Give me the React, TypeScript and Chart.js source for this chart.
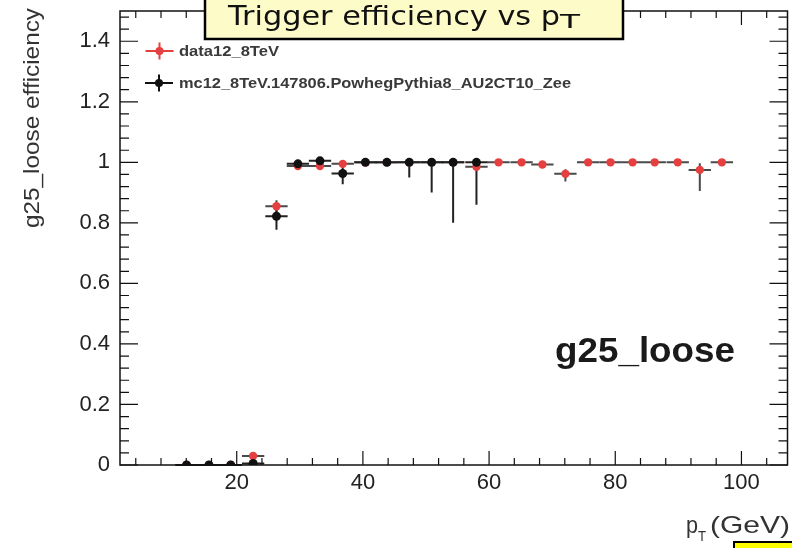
import React, { useEffect, useRef } from 'react';
import { Chart, registerables } from 'chart.js';

Chart.register(...registerables);

// ---- data ----
const binCenters = [12.05, 15.6, 19.05, 22.6, 26.3, 29.7, 33.2, 36.8, 40.4, 43.8, 47.35, 50.9, 54.3, 58.0, 61.5, 65.15, 68.45, 72.1, 75.7, 79.25, 82.75, 86.25, 89.9, 93.4, 96.9];
const binHalfWidth = 1.77;

const dataEff = [0, 0, 0, 0.03, 0.855, 0.988, 0.988, 0.995, 1.0, 1.0, 1.0, 1.0, 1.0, 0.985, 1.0, 1.0, 0.993, 0.962, 1.0, 1.0, 1.0, 1.0, 1.0, 0.975, 1.0];
const dataErrUp = [0, 0, 0, 0.01, 0.02, 0.005, 0.005, 0.005, 0.003, 0.003, 0.003, 0.003, 0.003, 0.01, 0.003, 0.003, 0.005, 0.015, 0.003, 0.003, 0.003, 0.003, 0.003, 0.022, 0.003];
const dataErrDown = [0, 0, 0, 0.01, 0.02, 0.005, 0.005, 0.005, 0.003, 0.003, 0.003, 0.003, 0.003, 0.01, 0.003, 0.003, 0.005, 0.025, 0.003, 0.003, 0.003, 0.003, 0.003, 0.07, 0.003];

const mcEff: (number | null)[] = [0, 0, 0, 0.005, 0.822, 0.995, 1.005, 0.963, 1.0, 1.0, 1.0, 1.0, 1.0, 1.0, null, null, null, null, null, null, null, null, null, null, null];
const mcErrUp = [0, 0, 0, 0.005, 0.03, 0.005, 0.005, 0.03, 0, 0, 0, 0, 0, 0, 0, 0, 0, 0, 0, 0, 0, 0, 0, 0, 0];
const mcErrDown = [0, 0, 0, 0.005, 0.045, 0.005, 0.005, 0.035, 0, 0, 0.05, 0.1, 0.2, 0.14, 0, 0, 0, 0, 0, 0, 0, 0, 0, 0, 0];

const xMin = 1.5;
const xMax = 107.3;
const yMin = 0;
const yMax = 1.5;
const xTickValues = [20, 40, 60, 80, 100];
const xTickLabels = ['20', '40', '60', '80', '100'];
const yTickValues = [0, 0.2, 0.4, 0.6, 0.8, 1.0, 1.2, 1.4];
const yTickLabels = ['0', '0.2', '0.4', '0.6', '0.8', '1', '1.2', '1.4'];

const dataLabel = 'data12_8TeV';
const mcLabel = 'mc12_8TeV.147806.PowhegPythia8_AU2CT10_Zee';
const yTitle = 'g25_loose efficiency';
const plotLabel = 'g25_loose';
const titleMain = 'Trigger efficiency vs p';
const titleSub = 'T';

const FONT = '"Liberation Sans", Arial, Helvetica, sans-serif';
const RED = '#e5403f';
const BLACK = '#111111';

function fitText(ctx: CanvasRenderingContext2D, text: string, x: number, y: number, font: string, targetW: number, align: CanvasTextAlign = 'left') {
  ctx.save();
  ctx.font = font;
  const w = ctx.measureText(text).width || 1;
  const s = targetW / w;
  ctx.translate(x, y);
  ctx.scale(s, 1);
  ctx.textAlign = align;
  ctx.textBaseline = 'alphabetic';
  ctx.fillText(text, 0, 0);
  ctx.restore();
}

const errorBarPlugin = {
  id: 'errorBars',
  beforeDatasetsDraw(chart: any) {
    const { ctx, scales } = chart;
    const x = scales.x;
    const y = scales.y;
    const draw = (vals: (number | null)[], up: number[], down: number[], color: string) => {
      ctx.save();
      ctx.strokeStyle = color;
      ctx.lineWidth = 2;
      vals.forEach((v, i) => {
        if (v == null) return;
        const cx = x.getPixelForValue(binCenters[i]);
        const x0 = x.getPixelForValue(binCenters[i] - binHalfWidth);
        const x1 = x.getPixelForValue(binCenters[i] + binHalfWidth);
        const py = y.getPixelForValue(v);
        ctx.beginPath();
        ctx.moveTo(x0, py);
        ctx.lineTo(x1, py);
        if (up[i] > 0 || down[i] > 0) {
          ctx.moveTo(cx, y.getPixelForValue(v + up[i]));
          ctx.lineTo(cx, y.getPixelForValue(Math.max(0, v - down[i])));
        }
        ctx.stroke();
      });
      ctx.restore();
    };
    draw(dataEff, dataErrUp, dataErrDown, '#4a4a4a');
    draw(mcEff, mcErrUp, mcErrDown, '#222222');
  },
};

const framePlugin = {
  id: 'frame',
  afterDatasetsDraw(chart: any) {
    const { ctx, chartArea, scales } = chart;
    const { left, right, top, bottom } = chartArea;
    const x = scales.x;
    const y = scales.y;
    ctx.save();
    ctx.strokeStyle = '#111';
    ctx.lineWidth = 1.5;
    ctx.strokeRect(left, top, right - left, bottom - top);
    ctx.lineWidth = 1.2;
    ctx.beginPath();
    for (let k = 0; k * 0.04 <= yMax + 1e-9; k++) {
      const v = k * 0.04;
      const major = k % 5 === 0;
      const len = major ? 18 : 9;
      const py = y.getPixelForValue(v);
      ctx.moveTo(left, py);
      ctx.lineTo(left + len, py);
      ctx.moveTo(right, py);
      ctx.lineTo(right - len, py);
    }
    for (let k = 1; k * 4 <= xMax; k++) {
      const v = k * 4;
      if (v < xMin) continue;
      const major = v % 20 === 0;
      const len = major ? 14 : 7;
      const px = x.getPixelForValue(v);
      ctx.moveTo(px, bottom);
      ctx.lineTo(px, bottom - len);
      ctx.moveTo(px, top);
      ctx.lineTo(px, top + len);
    }
    ctx.stroke();
    ctx.restore();
  },
};

const overlayPlugin = {
  id: 'overlay',
  afterDraw(chart: any) {
    const { ctx } = chart;
    ctx.save();

    const legendRows = [
      { label: dataLabel, color: RED, cx: 159.5, cy: 51, tx: 179, ty: 55.5, tw: 100 },
      { label: mcLabel, color: BLACK, cx: 159, cy: 83, tx: 179, ty: 87.5, tw: 392 },
    ];
    legendRows.forEach((r) => {
      ctx.strokeStyle = r.color;
      ctx.lineWidth = 2;
      ctx.beginPath();
      ctx.moveTo(r.cx - 14, r.cy);
      ctx.lineTo(r.cx + 14, r.cy);
      ctx.moveTo(r.cx, r.cy - 8.5);
      ctx.lineTo(r.cx, r.cy + 8.5);
      ctx.stroke();
      ctx.fillStyle = r.color;
      ctx.beginPath();
      ctx.arc(r.cx, r.cy, 4, 0, Math.PI * 2);
      ctx.fill();
      ctx.fillStyle = '#3a3a3a';
      fitText(ctx, r.label, r.tx, r.ty, `bold 14px ${FONT}`, r.tw);
    });

    ctx.fillStyle = '#1a1a1a';
    fitText(ctx, plotLabel, 555, 362, `bold 35px ${FONT}`, 180);

    ctx.fillStyle = '#333';
    ctx.save();
    ctx.translate(39, 8);
    ctx.rotate(-Math.PI / 2);
    fitText(ctx, yTitle, 0, 0, `22px ${FONT}`, 220, 'right');
    ctx.restore();

    ctx.fillStyle = '#333';
    fitText(ctx, 'p', 686, 533, `24px ${FONT}`, 12);
    fitText(ctx, 'T', 698, 541, `14px ${FONT}`, 8);
    fitText(ctx, '(GeV)', 710, 533, `24px ${FONT}`, 80);

    ctx.fillStyle = '#fdfbc8';
    ctx.fillRect(205, -2, 418, 41);
    ctx.strokeStyle = '#000';
    ctx.lineWidth = 2.5;
    ctx.strokeRect(205, -2, 418, 41);
    ctx.fillStyle = '#111';
    fitText(ctx, titleMain, 228, 25, `27px "DejaVu Sans", sans-serif`, 332);
    fitText(ctx, titleSub, 560, 28, `19px "DejaVu Sans", sans-serif`, 20);

    ctx.fillStyle = '#ffff00';
    ctx.fillRect(734, 542, 60, 10);
    ctx.strokeStyle = '#000';
    ctx.lineWidth = 2;
    ctx.beginPath();
    ctx.moveTo(734, 552);
    ctx.lineTo(734, 542);
    ctx.lineTo(794, 542);
    ctx.stroke();

    ctx.restore();
  },
};

export default function App() {
  const ref = useRef<HTMLCanvasElement | null>(null);

  useEffect(() => {
    if (!ref.current) return;
    const dataPoints = binCenters.map((x, i) => ({ x, y: dataEff[i] }));
    const mcPoints = binCenters
      .map((x, i) => ({ x, y: mcEff[i] }))
      .filter((p) => p.y != null) as { x: number; y: number }[];

    const chart = new Chart(ref.current, {
      type: 'scatter',
      data: {
        datasets: [
          {
            label: dataLabel,
            data: dataPoints,
            order: 1,
            pointRadius: 4.2,
            pointBackgroundColor: RED,
            pointBorderColor: RED,
            pointBorderWidth: 0,
            showLine: false,
          },
          {
            label: mcLabel,
            data: mcPoints,
            order: 0,
            pointRadius: 4.5,
            pointBackgroundColor: BLACK,
            pointBorderColor: BLACK,
            pointBorderWidth: 0,
            showLine: false,
          },
        ],
      },
      options: {
        responsive: false,
        animation: false,
        events: [],
        layout: { padding: { top: 11, right: 2, left: 0, bottom: 0 } },
        plugins: {
          legend: { display: false },
          tooltip: { enabled: false },
          title: { display: false },
        },
        scales: {
          x: {
            type: 'linear',
            min: xMin,
            max: xMax,
            grid: { display: false, drawTicks: false },
            border: { display: false },
            afterBuildTicks: (s: any) => {
              s.ticks = xTickValues.map((v) => ({ value: v }));
            },
            afterFit: (s: any) => {
              s.height = 83;
              s.paddingLeft = 0;
              s.paddingRight = 0;
            },
            ticks: {
              autoSkip: false,
              maxRotation: 0,
              padding: 5,
              color: '#222',
              font: { family: FONT, size: 22 },
              callback: (_v: any, i: number) => xTickLabels[i],
            },
          },
          y: {
            type: 'linear',
            min: yMin,
            max: yMax,
            grid: { display: false, drawTicks: false },
            border: { display: false },
            afterBuildTicks: (s: any) => {
              s.ticks = yTickValues.map((v) => ({ value: v }));
            },
            afterFit: (s: any) => {
              s.width = 120;
              s.paddingTop = 0;
              s.paddingBottom = 0;
            },
            ticks: {
              autoSkip: false,
              padding: 10,
              color: '#222',
              font: { family: FONT, size: 22 },
              callback: (_v: any, i: number) => yTickLabels[i],
            },
          },
        },
      },
      plugins: [errorBarPlugin, framePlugin, overlayPlugin],
    });
    return () => chart.destroy();
  }, []);

  return (
    <div style={{ position: 'absolute', left: 0, top: 0, width: 792, height: 548, background: '#fff' }}>
      <canvas ref={ref} width={792} height={548} style={{ display: 'block' }} />
    </div>
  );
}
